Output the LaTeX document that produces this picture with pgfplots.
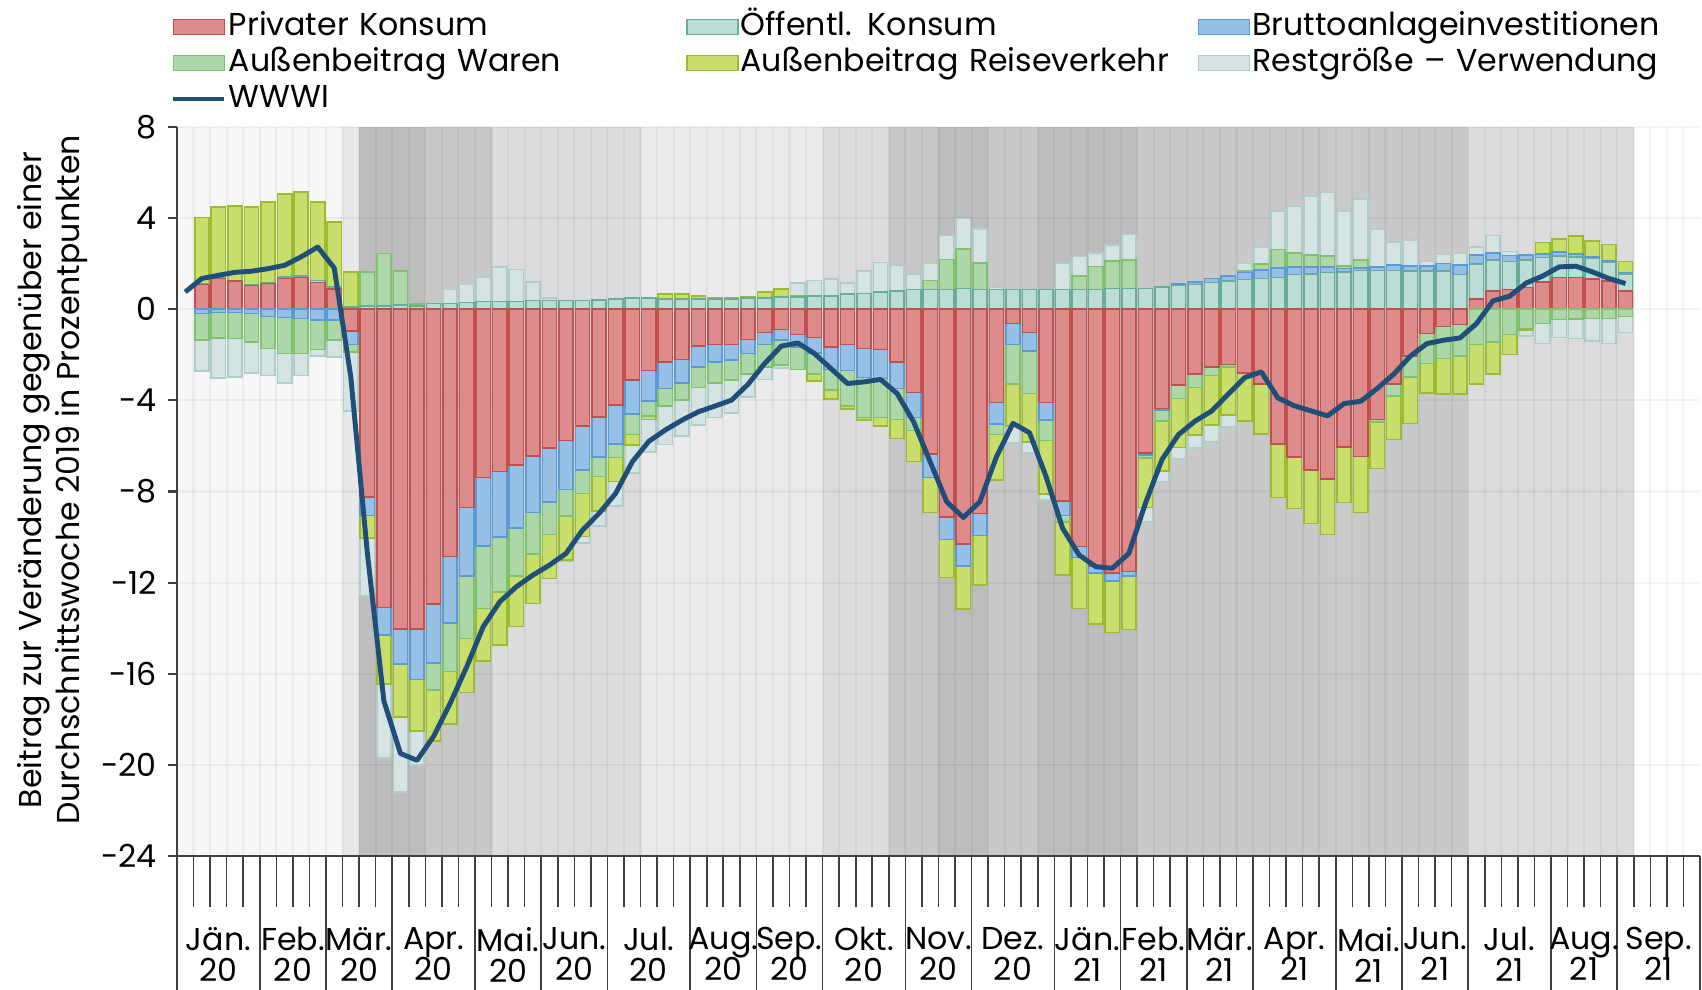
\documentclass[border=0pt]{standalone}
\usepackage{fontspec}
\setmainfont{Poppins}
\usepackage{pgfplots}
\usepackage{pgfplotstable}
\pgfplotsset{compat=1.18}

\definecolor{pkF}{RGB}{221,139,139}
\definecolor{pkD}{RGB}{192,80,77}
\definecolor{okF}{RGB}{188,220,214}
\definecolor{okD}{RGB}{106,171,156}
\definecolor{biF}{RGB}{151,192,230}
\definecolor{biD}{RGB}{91,155,213}
\definecolor{awF}{RGB}{173,215,168}
\definecolor{awD}{RGB}{126,193,110}
\definecolor{arF}{RGB}{200,223,110}
\definecolor{arD}{RGB}{157,187,48}
\definecolor{rvF}{RGB}{213,227,227}
\definecolor{rvD}{RGB}{177,205,203}
\definecolor{wwC}{RGB}{31,78,121}
\definecolor{bgA}{RGB}{247,247,247}
\definecolor{bgB}{RGB}{233,233,233}
\definecolor{bgC}{RGB}{189,189,189}
\definecolor{bgD}{RGB}{200,200,200}
\definecolor{bgE}{RGB}{220,220,220}
\definecolor{bgF}{RGB}{235,235,235}
\definecolor{bgG}{RGB}{201,201,201}
\definecolor{axC}{RGB}{64,64,64}

% week index, Privater Konsum, Oeffentl. Konsum, Bruttoanlageinv., Aussenbeitrag Waren, Aussenbeitrag Reiseverkehr, Restgroesse
\pgfplotstableread{
w pk ok bi aw ar rv
1 1.08 0.03 -0.19 -1.17 2.92 -1.35
2 1.35 0.03 -0.15 -1.10 3.12 -1.77
3 1.23 0.03 -0.15 -1.14 3.28 -1.68
4 1.05 0.03 -0.19 -1.24 3.42 -1.36
5 1.13 0.03 -0.31 -1.42 3.56 -1.18
6 1.35 0.07 -0.37 -1.58 3.65 -1.29
7 1.39 0.07 -0.41 -1.54 3.68 -0.96
8 1.17 0.10 -0.48 -1.29 3.44 -0.28
9 0.88 0.10 -0.48 -0.88 2.85 -0.73
10 -0.95 0.10 -0.60 -0.32 1.54 -2.60
11 -8.23 0.15 -0.83 1.49 -0.97 -2.53
12 -13.10 0.13 -1.21 2.31 -2.15 -3.25
13 -14.04 0.18 -1.54 1.50 -2.32 -3.29
14 -14.04 0.15 -2.21 0.07 -2.26 -1.49
15 -12.95 0.26 -2.59 -1.17 -2.24 0
16 -10.86 0.26 -2.90 -2.15 -2.29 0.60
17 -8.70 0.29 -3.01 -2.74 -2.38 0.79
18 -7.38 0.34 -3.00 -2.75 -2.31 1.08
19 -7.13 0.34 -2.86 -2.41 -2.34 1.52
20 -6.84 0.34 -2.75 -2.12 -2.22 1.40
21 -6.43 0.39 -2.50 -1.81 -2.17 0.80
22 -6.08 0.39 -2.37 -1.43 -1.93 0.10
23 -5.76 0.39 -2.15 -1.17 -1.93 -0.07
24 -5.12 0.39 -1.94 -1.02 -1.90 -0.27
25 -4.74 0.41 -1.74 -0.87 -1.51 -0.66
26 -4.21 0.44 -1.71 -0.59 -1.06 -1.07
27 -3.11 0.50 -1.49 -0.90 -0.46 -1.22
28 -2.68 0.50 -1.36 -0.65 -0.15 -1.42
29 -2.31 0.44 -1.17 -0.77 0.22 -1.69
30 -2.21 0.44 -1.02 -0.76 0.22 -1.58
31 -1.61 0.44 -0.92 -0.91 0.15 -1.65
32 -1.55 0.44 -0.76 -0.92 0.06 -1.52
33 -1.55 0.44 -0.69 -0.87 0.06 -1.44
34 -1.33 0.50 -0.61 -0.91 0.04 -1.00
35 -1.02 0.50 -0.53 -0.98 0.26 -0.55
36 -0.89 0.54 -0.47 -1.10 0.34 -0.11
37 -1.11 0.54 -0.54 -1.00 0.07 0.54
38 -1.24 0.58 -0.68 -0.93 -0.29 0.69
39 -1.65 0.58 -1.00 -0.90 -0.40 0.76
40 -1.55 0.66 -1.13 -1.57 -0.13 0.50
41 -1.73 0.69 -1.27 -1.75 -0.12 0.99
42 -1.77 0.76 -1.27 -1.71 -0.38 1.29
43 -2.31 0.80 -1.17 -1.36 -0.83 1.15
44 -3.65 0.86 -1.10 -0.58 -1.36 0.70
45 -6.36 0.86 -1.02 0.41 -1.54 0.73
46 -9.11 0.86 -0.99 1.33 -1.67 1.05
47 -10.31 0.91 -0.96 1.73 -1.90 1.34
48 -8.96 0.86 -0.98 1.18 -2.16 1.49
49 -4.09 0.86 -0.95 -0.46 -2.00 0.12
50 -0.63 0.86 -0.92 -1.74 -1.84 -0.73
51 -1.02 0.86 -0.81 -1.87 -2.12 -0.48
52 -4.09 0.86 -0.78 -0.90 -2.34 -0.27
53 -8.41 0.86 -0.65 -0.27 -2.34 1.18
54 -10.42 0.86 -0.48 0.60 -2.23 0.86
55 -11.26 0.86 -0.33 1.02 -2.22 0.58
56 -11.59 0.91 -0.34 1.20 -2.26 0.70
57 -11.52 0.91 -0.19 1.24 -2.34 1.13
58 -6.30 0.91 -0.10 -0.14 -2.16 -0.63
59 -4.36 0.98 -0.07 -0.47 -2.19 -0.49
60 -3.33 1.05 0.07 -0.59 -2.14 -0.50
61 -2.85 1.08 0.12 -0.59 -2.09 -0.56
62 -2.53 1.17 0.18 -0.38 -2.18 -0.73
63 -2.43 1.24 0.22 -0.10 -2.12 -0.51
64 -2.79 1.30 0.31 0.07 -2.11 0.32
65 -3.29 1.35 0.37 0.26 -2.19 0.73
66 -5.92 1.39 0.42 0.82 -2.34 1.68
67 -6.48 1.52 0.34 0.61 -2.26 2.06
68 -7.06 1.56 0.29 0.54 -2.34 2.57
69 -7.46 1.61 0.25 0.47 -2.42 2.79
70 -6.04 1.64 0.15 0.12 -2.44 2.40
71 -6.47 1.71 0.10 0.34 -2.45 2.70
72 -4.84 1.71 0.15 -0.12 -2.03 1.65
73 -3.29 1.71 0.22 -0.53 -1.90 1.02
74 -2.05 1.68 0.22 -0.92 -2.04 1.13
75 -1.07 1.67 0.23 -1.31 -1.29 0.20
76 -0.75 1.67 0.34 -1.41 -1.57 0.40
77 -0.67 1.52 0.41 -1.39 -1.67 0.51
78 0.44 1.54 0.39 -1.55 -1.74 0.37
79 0.80 1.35 0.32 -1.43 -1.42 0.77
80 0.86 1.24 0.26 -1.11 -0.88 0.18
81 0.95 1.20 0.22 -0.85 -0.07 -0.25
82 1.20 1.07 0.15 -0.63 0.51 -0.87
83 1.39 0.95 0.18 -0.45 0.56 -0.79
84 1.39 0.91 0.12 -0.44 0.79 -0.85
85 1.32 0.91 0.07 -0.41 0.69 -0.98
86 1.23 0.82 0.06 -0.41 0.73 -1.10
87 0.79 0.77 0.04 -0.31 0.50 -0.71
}\bars

\pgfplotstableread{
w ww
0 0.76
1 1.35
2 1.49
3 1.62
4 1.67
5 1.78
6 1.93
7 2.30
8 2.73
9 1.81
10 -2.97
11 -10.70
12 -17.20
13 -19.50
14 -19.80
15 -18.75
16 -17.30
17 -15.70
18 -13.93
19 -12.84
20 -12.18
21 -11.67
22 -11.23
23 -10.72
24 -9.69
25 -8.96
26 -8.08
27 -6.70
28 -5.80
29 -5.30
30 -4.87
31 -4.50
32 -4.25
33 -3.99
34 -3.29
35 -2.38
36 -1.62
37 -1.48
38 -1.94
39 -2.60
40 -3.26
41 -3.19
42 -3.08
43 -3.70
44 -4.94
45 -6.70
46 -8.45
47 -9.14
48 -8.45
49 -6.48
50 -5.01
51 -5.42
52 -7.35
53 -9.62
54 -10.79
55 -11.30
56 -11.37
57 -10.72
58 -8.52
59 -6.60
60 -5.50
61 -4.91
62 -4.47
63 -3.73
64 -3.00
65 -2.75
66 -3.89
67 -4.24
68 -4.46
69 -4.68
70 -4.14
71 -4.04
72 -3.48
73 -2.85
74 -2.06
75 -1.51
76 -1.36
77 -1.26
78 -0.63
79 0.37
80 0.57
81 1.15
82 1.46
83 1.86
84 1.89
85 1.64
86 1.35
87 1.13
}\wwwi

\pgfplotsset{
  swatch legend/.style={legend image code/.code={\draw[##1,line width=0.5pt] (0cm,-0.075cm) rectangle (0.51cm,0.075cm);}},
  wline legend/.style={legend image code/.code={\draw[##1] (0cm,0cm) -- (0.51cm,0cm);}},
  lay/.style={ybar, bar width=0.86, bar shift=0pt, line width=0.45pt, forget plot},
  posl/.style={lay, restrict y to domain=0.0005:100},
  negl/.style={lay, restrict y to domain=-100:-0.0005},
}

\begin{document}
\fontsize{9}{10.8}\selectfont
\begin{tikzpicture}
\useasboundingbox (0,0) rectangle (17.02,9.90);
\begin{axis}[
  at={(1.77cm,1.34cm)}, anchor=south west,
  width=15.23cm, height=7.29cm, scale only axis,
  xmin=0, xmax=92, ymin=-24, ymax=8,
  clip=false,
  axis on top,
  axis x line*=bottom, axis y line*=left,
  axis line style={axC, line width=0.6pt},
  tick align=outside,
  major tick length=0.085cm,
  ytick={-24,-20,...,8},
  ytick style={axC, line width=0.6pt},
  /pgf/number format/assume math mode=true,
  yticklabel style={inner sep=0pt, xshift=-0.11cm},
  xtick={2.5,7,11,15.5,20,24,28.5,33,37,41.5,46,50.5,55,59,63,67.5,72,76,80.5,85,89.5},
  xticklabels={{Jän.\\20},{Feb.\\20},{Mär.\\20},{Apr.\\20},{Mai.\\20},{Jun.\\20},{Jul.\\20},{Aug.\\20},{Sep.\\20},{Okt.\\20},{Nov.\\20},{Dez.\\20},{Jän.\\21},{Feb.\\21},{Mär.\\21},{Apr.\\21},{Mai.\\21},{Jun.\\21},{Jul.\\21},{Aug.\\21},{Sep.\\21}},
  xtick style={draw=none},
  xticklabel style={align=center, font={\fontsize{9}{8.8}\selectfont\lineskiplimit=-20pt\lineskip=0pt}, anchor=north, inner sep=0pt, yshift=-0.62cm},
  ylabel={Beitrag zur Veränderung gegenüber einer\\Durchschnittswoche 2019 in Prozentpunkten},
  ylabel style={align=center, at={(axis description cs:-0.082,0.516)}, anchor=center},
  legend columns=3,
  legend cell align=left,
  legend style={at={(0,1)}, anchor=north west, xshift=-0.06cm, yshift=1.18cm,
    draw=none, fill=none, inner sep=0pt, outer sep=0pt,
    column sep=0pt, row sep=0pt,
    /tikz/every odd column/.append style={column sep=0.0cm},
    nodes={inner sep=0.02cm, text height=0.24cm, text depth=0.08cm, text width=4.55cm, align=left}},
]
\addlegendimage{swatch legend, fill=pkF, draw=pkD}
\addlegendentry{Privater Konsum}
\addlegendimage{swatch legend, fill=okF, draw=okD}
\addlegendentry{Öffentl. Konsum}
\addlegendimage{swatch legend, fill=biF, draw=biD}
\addlegendentry{Bruttoanlageinvestitionen}
\addlegendimage{swatch legend, fill=awF, draw=awD}
\addlegendentry{Außenbeitrag Waren}
\addlegendimage{swatch legend, fill=arF, draw=arD}
\addlegendentry{Außenbeitrag Reiseverkehr}
\addlegendimage{swatch legend, fill=rvF, draw=rvD}
\addlegendentry{Restgröße – Verwendung}
\addlegendimage{wline legend, draw=wwC, line width=1.4pt}
\addlegendentry{WWWI}

% background shading (lockdown intensity)
\fill[bgA] (axis cs:0,-24) rectangle (axis cs:10,8);
\fill[bgB] (axis cs:10,-24) rectangle (axis cs:11,8);
\fill[bgC] (axis cs:11,-24) rectangle (axis cs:15,8);
\fill[bgD] (axis cs:15,-24) rectangle (axis cs:19,8);
\fill[bgE] (axis cs:19,-24) rectangle (axis cs:28,8);
\fill[bgF] (axis cs:28,-24) rectangle (axis cs:39,8);
\fill[bgE] (axis cs:39,-24) rectangle (axis cs:43,8);
\fill[bgD] (axis cs:43,-24) rectangle (axis cs:46,8);
\fill[bgC] (axis cs:46,-24) rectangle (axis cs:49,8);
\fill[bgD] (axis cs:49,-24) rectangle (axis cs:52,8);
\fill[bgC] (axis cs:52,-24) rectangle (axis cs:58,8);
\fill[bgG] (axis cs:58,-24) rectangle (axis cs:78,8);
\fill[bgE] (axis cs:78,-24) rectangle (axis cs:88,8);
% grid
\pgfplotsinvokeforeach{1,...,91}{\draw[black, opacity=0.045, line width=0.6pt] (axis cs:#1,-24) -- (axis cs:#1,8);}
\pgfplotsinvokeforeach{-20,-16,...,8}{\draw[black, opacity=0.045, line width=0.6pt] (axis cs:0,#1) -- (axis cs:92,#1);}

% positive stacks (outer layer first)
\addplot[posl, fill=rvF, draw=rvD] table[x expr=\thisrow{w}+0.5, y expr={max(\thisrow{pk},0)+max(\thisrow{ok},0)+max(\thisrow{bi},0)+max(\thisrow{aw},0)+max(\thisrow{ar},0)+max(\thisrow{rv},0)}] {\bars};
\addplot[posl, fill=arF, draw=arD] table[x expr=\thisrow{w}+0.5, y expr={max(\thisrow{pk},0)+max(\thisrow{ok},0)+max(\thisrow{bi},0)+max(\thisrow{aw},0)+max(\thisrow{ar},0)}] {\bars};
\addplot[posl, fill=awF, draw=awD] table[x expr=\thisrow{w}+0.5, y expr={max(\thisrow{pk},0)+max(\thisrow{ok},0)+max(\thisrow{bi},0)+max(\thisrow{aw},0)}] {\bars};
\addplot[posl, fill=biF, draw=biD] table[x expr=\thisrow{w}+0.5, y expr={max(\thisrow{pk},0)+max(\thisrow{ok},0)+max(\thisrow{bi},0)}] {\bars};
\addplot[posl, fill=okF, draw=okD] table[x expr=\thisrow{w}+0.5, y expr={max(\thisrow{pk},0)+max(\thisrow{ok},0)}] {\bars};
\addplot[posl, fill=pkF, draw=pkD] table[x expr=\thisrow{w}+0.5, y expr={max(\thisrow{pk},0)}] {\bars};
% negative stacks
\addplot[negl, fill=rvF, draw=rvD] table[x expr=\thisrow{w}+0.5, y expr={min(\thisrow{pk},0)+min(\thisrow{ok},0)+min(\thisrow{bi},0)+min(\thisrow{aw},0)+min(\thisrow{ar},0)+min(\thisrow{rv},0)}] {\bars};
\addplot[negl, fill=arF, draw=arD] table[x expr=\thisrow{w}+0.5, y expr={min(\thisrow{pk},0)+min(\thisrow{ok},0)+min(\thisrow{bi},0)+min(\thisrow{aw},0)+min(\thisrow{ar},0)}] {\bars};
\addplot[negl, fill=awF, draw=awD] table[x expr=\thisrow{w}+0.5, y expr={min(\thisrow{pk},0)+min(\thisrow{ok},0)+min(\thisrow{bi},0)+min(\thisrow{aw},0)}] {\bars};
\addplot[negl, fill=biF, draw=biD] table[x expr=\thisrow{w}+0.5, y expr={min(\thisrow{pk},0)+min(\thisrow{ok},0)+min(\thisrow{bi},0)}] {\bars};
\addplot[negl, fill=okF, draw=okD] table[x expr=\thisrow{w}+0.5, y expr={min(\thisrow{pk},0)+min(\thisrow{ok},0)}] {\bars};
\addplot[negl, fill=pkF, draw=pkD] table[x expr=\thisrow{w}+0.5, y expr={min(\thisrow{pk},0)}] {\bars};

% WWWI line
\addplot[wwC, line width=1.4pt, sharp plot, line join=round, forget plot] table[x expr=\thisrow{w}+0.5, y=ww] {\wwwi};

% week ticks and month separators
\pgfplotsinvokeforeach{1,...,91}{\draw[axC, line width=0.45pt] (axis cs:#1,-24) -- ++(0pt,-0.51cm);}
\pgfplotsinvokeforeach{0,5,9,13,18,22,26,31,35,39,44,48,53,57,61,65,70,74,78,83,87,92}{\draw[axC, line width=0.45pt] (axis cs:#1,-24) -- ++(0pt,-1.34cm);}
\end{axis}
\end{tikzpicture}
\end{document}
